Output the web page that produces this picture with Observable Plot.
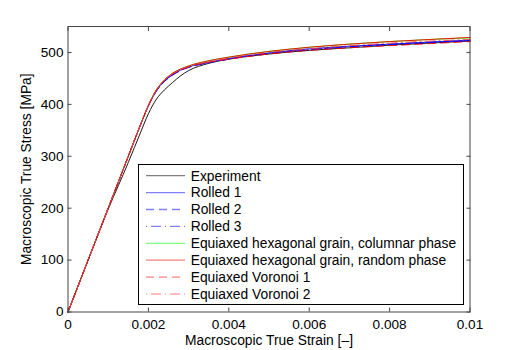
<!DOCTYPE html>
<html><head><meta charset="utf-8">
<script src="https://cdn.jsdelivr.net/npm/d3@7"></script>
<script src="https://cdn.jsdelivr.net/npm/@observablehq/plot@0.6"></script>
<style>
body{margin:0;background:#fff;font-family:"Liberation Sans",Arial,sans-serif}
#wrap{position:relative;width:518px;height:350px}
#legend{position:absolute;left:138px;top:164px;width:326px;height:141px;border:1px solid #000;background:#fff;box-sizing:border-box}
#legend svg{display:block}
</style></head>
<body><div id="wrap"><div id="chart"></div><div id="legend"></div></div>
<script>
const strain = [0, 0.0005, 0.001, 0.0015, 0.0018, 0.002, 0.0022, 0.0024, 0.0026, 0.0028, 0.003, 0.0035, 0.004, 0.005, 0.006, 0.007, 0.008, 0.009, 0.01];
const experiment  = [0, 100, 198, 288, 345, 382, 410, 428, 442, 455, 465, 479, 487, 497, 504, 509, 514, 518, 522];
const rolled1     = [0, 100, 200, 300, 360, 397, 426, 445, 457, 466, 472, 481, 488, 499, 507, 512, 516, 520, 524];
const rolled2     = [0, 100, 200, 300, 360, 397, 426, 444, 456, 465, 471, 480, 487, 498, 505, 511, 515, 519, 522];
const rolled3     = [0, 100, 200, 300, 360, 397, 426, 445, 457, 466, 472, 481, 488, 499, 506, 511, 516, 520, 523];
const hexColumnar = [0, 100, 200, 300, 360, 398, 428, 447, 460, 468, 474, 484, 491, 502, 510, 516, 521, 525, 528];
const hexRandom   = [0, 100, 200, 300, 360, 398, 428, 447, 460, 468, 474, 484, 491, 502, 510, 516, 521, 525, 529];
const voronoi1    = [0, 100, 200, 300, 360, 398, 428, 446, 458, 466, 472, 481, 487, 497, 504, 509, 513, 517, 521];
const voronoi2    = [0, 100, 200, 300, 360, 398, 428, 447, 459, 467, 473, 482, 489, 500, 507, 513, 518, 522, 525];

const seriesNames = ["Experiment", "Rolled 1", "Rolled 2", "Rolled 3",
  "Equiaxed hexagonal grain, columnar phase", "Equiaxed hexagonal grain, random phase",
  "Equiaxed Voronoi 1", "Equiaxed Voronoi 2"];
const seriesValues = [experiment, rolled1, rolled2, rolled3, hexColumnar, hexRandom, voronoi1, voronoi2];
const lineColors   = ["#000000", "#0000ff", "#0000ff", "#0000ff", "#00ff00", "#ff0000", "#ff0000", "#ff4040"];
const legendColors = ["#808080", "#8080ff", "#8080ff", "#8080ff", "#80ff80", "#ff8080", "#ff8080", "#ffa8a8"];
const dashes       = [null, null, "8,5", "1,4,10,4", null, null, "8,5", "1,4,10,4"];

const xTicks = [0, 0.002, 0.004, 0.006, 0.008, 0.01];
const yTicks = [0, 100, 200, 300, 400, 500];
const xLabel = "Macroscopic True Strain [–]";
const yLabel = "Macroscopic True Stress [MPa]";

const fmt = d => String(+d.toFixed(4));
const lineMarks = seriesNames.map((name, i) => {
  const rows = strain.map((s, j) => ({strain: s, stress: seriesValues[i][j]}));
  return Plot.line(rows, {x: "strain", y: "stress", stroke: lineColors[i], strokeWidth: 0.9,
    strokeDasharray: dashes[i] || undefined, curve: "monotone-x"});
});

const chart = Plot.plot({
  width: 518, height: 350,
  marginLeft: 67.5, marginRight: 48.5, marginTop: 26, marginBottom: 38.5,
  style: {fontFamily: "Liberation Sans, Arial, sans-serif", fontSize: "13.6px", background: "#fff", color: "#000", overflow: "visible"},
  x: {domain: [0, 0.01]},
  y: {domain: [0, 550]},
  marks: [
    ...lineMarks,
    Plot.frame({stroke: "#444"}),
    Plot.axisX(xTicks, {anchor: "bottom", tickSize: -4, tickPadding: 11, tickFormat: fmt, label: null, stroke: "#444"}),
    Plot.axisX(xTicks, {anchor: "top", tickSize: -4, tickFormat: () => "", label: null, stroke: "#444"}),
    Plot.axisY(yTicks, {anchor: "left", tickSize: -4, tickPadding: 8.5, tickFormat: fmt, label: null, stroke: "#444"}),
    Plot.axisY(yTicks, {anchor: "right", tickSize: -4, tickFormat: () => "", label: null, stroke: "#444"}),
    Plot.text([xLabel], {frameAnchor: "bottom", dy: 29, lineAnchor: "middle", fill: "#000", fontSize: 13.8}),
    Plot.text([yLabel], {frameAnchor: "left", dx: -41, rotate: -90, textAnchor: "middle", lineAnchor: "middle", fill: "#000", fontSize: 13.8})
  ]
});
document.getElementById("chart").appendChild(chart);

// legend
const lg = d3.select("#legend").append("svg").attr("width", 324).attr("height", 139)
  .style("font-family", "Liberation Sans, Arial, sans-serif").style("font-size", "13.8px");
seriesNames.forEach((name, i) => {
  const y = 10.7 + i * 16.9;
  lg.append("line").attr("x1", 7).attr("x2", 46).attr("y1", y).attr("y2", y)
    .attr("stroke", legendColors[i]).attr("stroke-width", 1.3)
    .attr("stroke-dasharray", dashes[i]);
  lg.append("text").attr("x", 51.7).attr("y", y).attr("dy", "0.35em").attr("fill", "#000").text(name);
});
</script>
</body></html>
